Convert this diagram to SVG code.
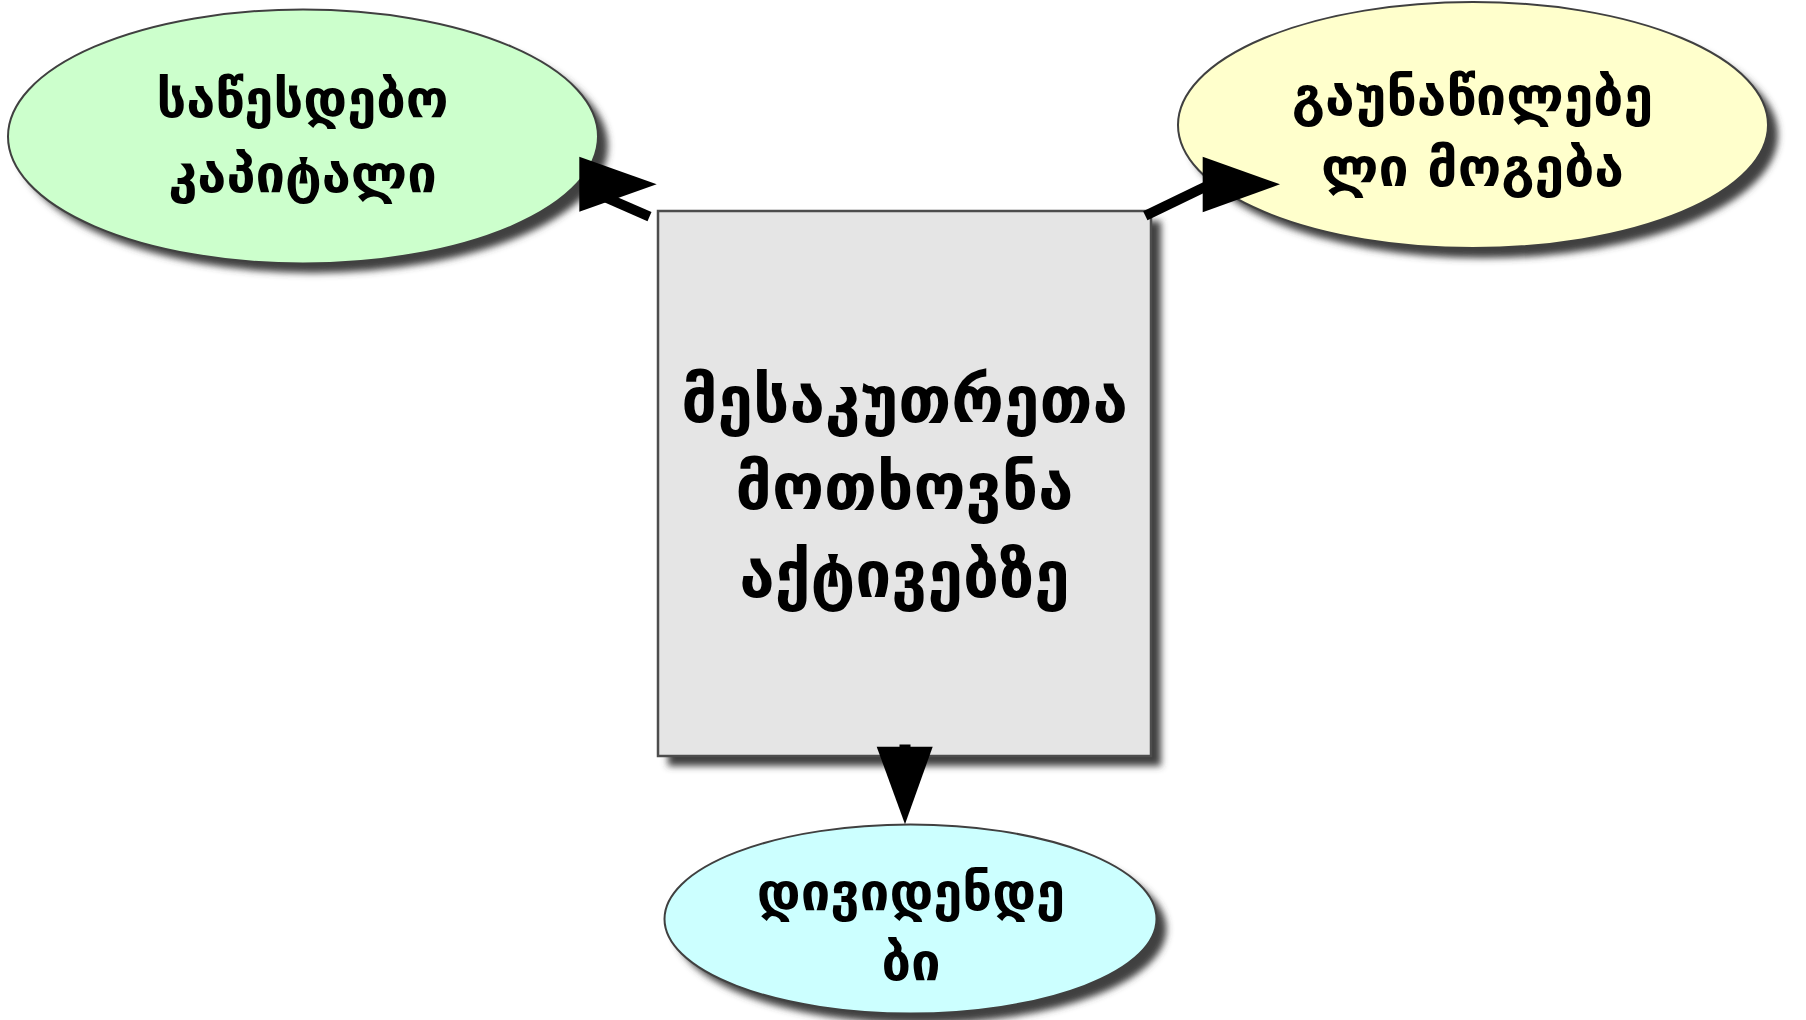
<svg xmlns="http://www.w3.org/2000/svg" width="1806" height="1020" viewBox="0 0 1806 1020">
<defs>
<filter id="sh" x="-20%" y="-20%" width="140%" height="140%">
<feGaussianBlur stdDeviation="3.5"/>
</filter>
</defs>
<style>
.shadow{fill:#404040;filter:url(#sh)}
.node{stroke:#404040;stroke-width:2}
.lbl{font-family:"DejaVu Sans",sans-serif;font-weight:bold;fill:#000;text-anchor:middle}
.edge{stroke:#000;stroke-width:10;fill:none}
.head{fill:#000}
</style>
<rect width="1806" height="1020" fill="#fff"/>
<g id="node-capital">
<ellipse class="shadow" cx="313" cy="146" rx="295" ry="127"/>
<ellipse class="node" cx="303" cy="136.5" rx="295" ry="127" fill="#ccffcc"/>
<text class="lbl" x="302.5" y="116.5" font-size="52.5">საწესდებო</text>
<text class="lbl" x="302.5" y="191.5" font-size="52.5">კაპიტალი</text>
</g>
<g id="node-profit">
<ellipse class="shadow" cx="1483" cy="135" rx="295" ry="123"/>
<ellipse class="node" cx="1473" cy="125" rx="295" ry="123" fill="#ffffcc"/>
<text class="lbl" x="1472.5" y="115" font-size="53.5">გაუნაწილებე</text>
<text class="lbl" x="1472.5" y="186" font-size="53.5">ლი მოგება</text>
</g>
<g id="node-claims">
<rect class="shadow" x="668" y="221" width="493" height="545"/>
<rect x="658" y="211" width="493" height="545" fill="#e5e5e5" stroke="#4d4d4d" stroke-width="2.5"/>
<text class="lbl" x="904.5" y="421.5" font-size="64">მესაკუთრეთა</text>
<text class="lbl" x="904.5" y="508.5" font-size="64">მოთხოვნა</text>
<text class="lbl" x="904.5" y="596.5" font-size="64">აქტივებზე</text>
</g>
<g id="node-dividends">
<ellipse class="shadow" cx="920.5" cy="929" rx="246" ry="94.5"/>
<ellipse class="node" cx="910.5" cy="919" rx="246" ry="94.5" fill="#ccffff"/>
<text class="lbl" x="911" y="910" font-size="52.5">დივიდენდე</text>
<text class="lbl" x="911" y="980" font-size="52.5">ბი</text>
</g>
<g id="connectors">
<line class="edge" x1="649.5" y1="216.7" x2="600" y2="195"/>
<polygon class="head" points="579.3,156.7 579.3,211.7 656.7,184.3"/>
<line class="edge" x1="1145.3" y1="215.8" x2="1210" y2="184.5"/>
<polygon class="head" points="1202.7,156.7 1202.7,212.3 1280,184.3"/>
<rect class="head" x="899.5" y="744.5" width="11" height="4"/>
<polygon class="head" points="876.7,746.7 932.7,746.7 905,824.3"/>
</g>
</svg>
